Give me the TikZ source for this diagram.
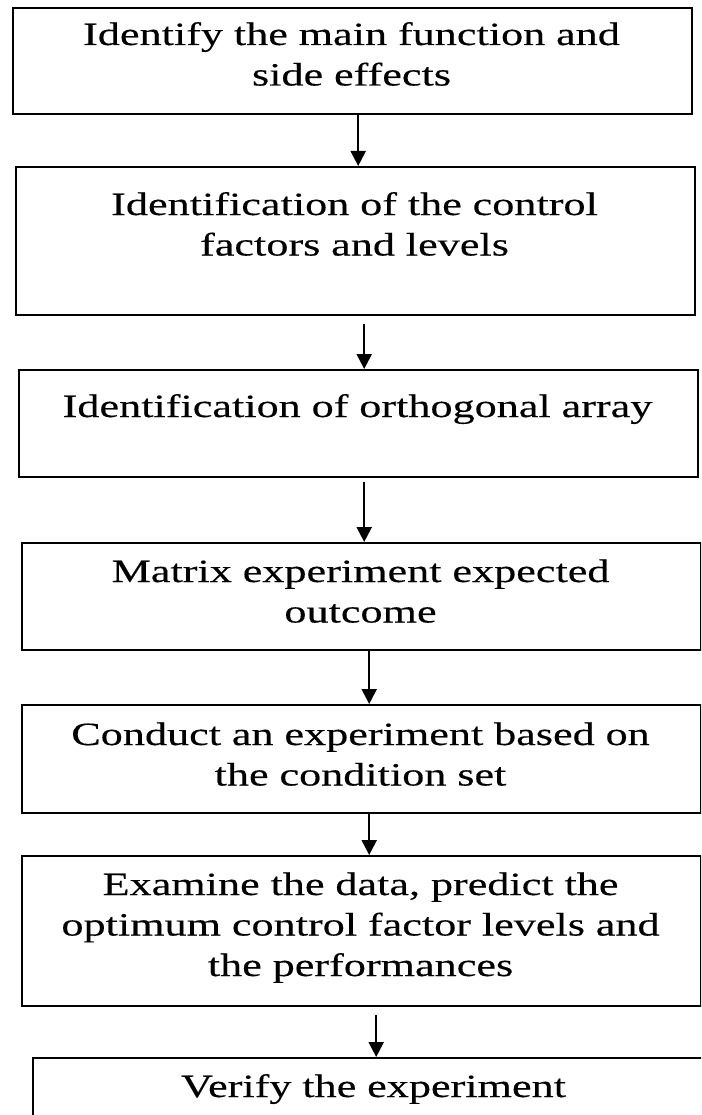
\documentclass[tikz,border=0pt]{standalone}
\usepackage{fontspec}
\usepackage{graphicx}
\setmainfont[FakeStretch=1.36,FakeBold=0.3]{Liberation Serif}
\usetikzlibrary{arrows.meta}
\begin{document}
\begin{tikzpicture}[x=1pt,y=-1pt,
  box/.style={draw, line width=2.4pt, rectangle, inner sep=0pt, anchor=north west},
  txt/.style={text width=690pt, align=center, inner sep=0pt, anchor=base,
    font=\fontsize{32.5}{40.5}\selectfont},
  arr/.style={line width=2.2pt, -{Triangle[width=15pt,length=15pt]}}]
\useasboundingbox (0,0) rectangle (701,1115);
\clip (0,0) rectangle (701,1115);
\fill[white] (0,0) rectangle (701,1115);
% boxes
\node[box, minimum width=679pt, minimum height=106pt] (b1) at (12,7) {};
\node[box, minimum width=679pt, minimum height=148pt] (b2) at (15,166) {};
\node[box, minimum width=679pt, minimum height=107pt] (b3) at (18,369) {};
\node[box, minimum width=679pt, minimum height=107pt] (b4) at (21,542) {};
\node[box, minimum width=679pt, minimum height=108pt] (b5) at (21,704) {};
\node[box, minimum width=679pt, minimum height=150pt] (b6) at (21,855) {};
\node[box, minimum width=683pt, minimum height=107pt] (b7) at (32,1057) {};
% texts
\node[txt] (t1) at (351.5,45) {Identify the main function and\\side effects};
\node[txt] (t2) at (354.5,215) {Identification of the control\\factors and levels};
\node[txt] (t3) at (357.5,417) {Identification of orthogonal array};
\node[txt] (t4) at (360.5,582) {Matrix experiment expected\\outcome};
\node[txt] (t5) at (360.5,745) {Conduct an experiment based on\\the condition set};
\node[txt] (t6) at (360.5,895) {Examine the data, predict the\\optimum control factor levels and\\the performances};
\node[txt] (t7) at (373.5,1097) {Verify the experiment};
% arrows
\draw[arr] ([xshift=5.5pt]b1.south) -- ([xshift=2.5pt]b2.north);
\draw[arr, shorten <=8pt] ([xshift=8.5pt]b2.south) -- ([xshift=5.5pt]b3.north);
\draw[arr, shorten <=4pt] ([xshift=5.5pt]b3.south) -- ([xshift=2.5pt]b4.north);
\draw[arr] ([xshift=7.5pt]b4.south) -- ([xshift=7.5pt]b5.north);
\draw[arr] ([xshift=7.5pt]b5.south) -- ([xshift=7.5pt]b6.north);
\draw[arr, shorten <=8pt] ([xshift=14.5pt]b6.south) -- ([xshift=1.5pt]b7.north);
\end{tikzpicture}
\end{document}
